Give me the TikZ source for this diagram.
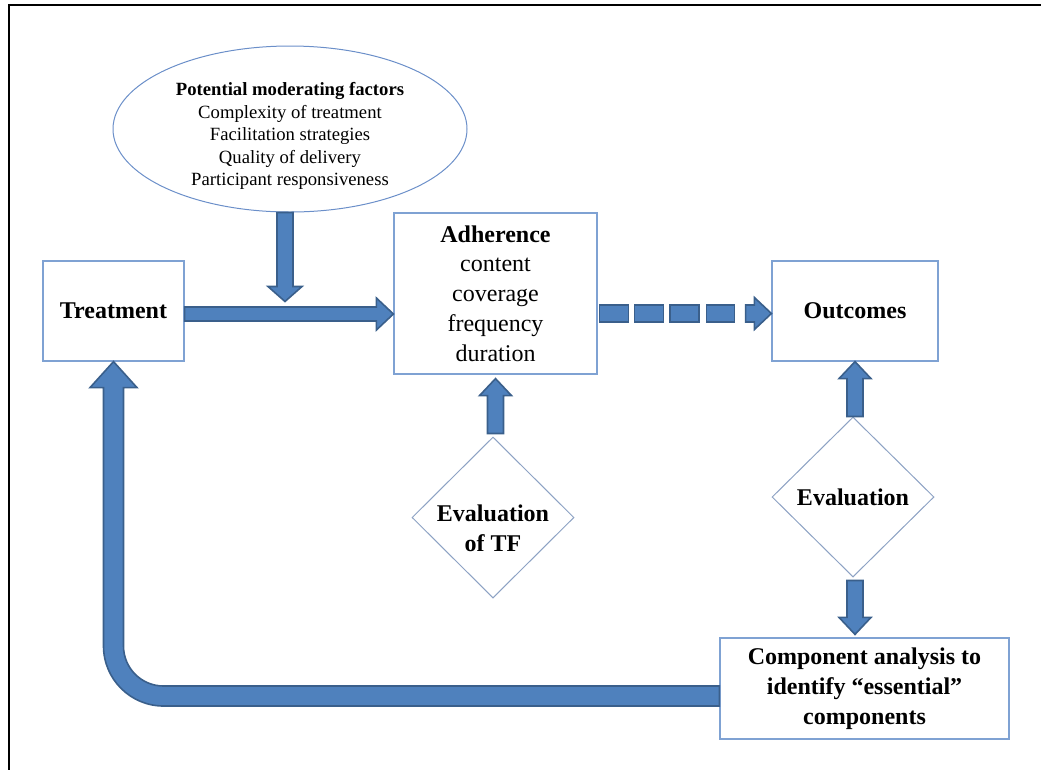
\documentclass[tikz,border=0pt]{standalone}
\usepackage{fontspec}
\setmainfont{Liberation Serif}
\usetikzlibrary{calc,shapes.geometric}
\definecolor{afill}{HTML}{4F81BD}
\definecolor{aline}{HTML}{3A5F8B}
\definecolor{bline}{HTML}{7FA2D3}
\definecolor{dline}{HTML}{8DA2C4}
\definecolor{eline}{HTML}{6B8FC9}
% #1 start coord, #2 end coord, #3/#4 unit direction, #5 half shaft, #6 half head, #7 head length
\newcommand\blockarrow[7]{%
 \draw[blk] ($(#1)+({-(#4)*(#5)},{(#3)*(#5)})$)
 -- ($(#2)+({-(#3)*(#7)-(#4)*(#5)},{-(#4)*(#7)+(#3)*(#5)})$)
 -- ($(#2)+({-(#3)*(#7)-(#4)*(#6)},{-(#4)*(#7)+(#3)*(#6)})$)
 -- (#2)
 -- ($(#2)+({-(#3)*(#7)+(#4)*(#6)},{-(#4)*(#7)-(#3)*(#6)})$)
 -- ($(#2)+({-(#3)*(#7)+(#4)*(#5)},{-(#4)*(#7)-(#3)*(#5)})$)
 -- ($(#1)+({(#4)*(#5)},{-(#3)*(#5)})$) -- cycle;}
\begin{document}
\begin{tikzpicture}[x=0.75pt,y=-0.75pt,
  box/.style={draw=bline, line width=0.9pt, rectangle, inner sep=0pt, fill=white},
  big/.style={font=\fontsize{18}{22.3}\selectfont, align=center},
  bigb/.style={font=\fontsize{18}{22.3}\selectfont\bfseries, align=center},
  small/.style={font=\fontsize{14}{16.9}\selectfont, align=center},
  blk/.style={fill=afill, draw=aline, line width=1.2pt, line join=miter},
  dia/.style={diamond, draw=dline, line width=0.75pt, inner sep=0pt, fill=white}]
\useasboundingbox (0,0) rectangle (1041,769);
\draw[line width=1.7pt] (9,775) -- (9,5) -- (1045,5);

\node[ellipse, draw=eline, line width=0.75pt, minimum width=265.5pt, minimum height=124.5pt, inner sep=0pt,
  label={[small, yshift=-5.25pt]center:{\textbf{Potential moderating factors}\\Complexity of treatment\\Facilitation strategies\\Quality of delivery\\Participant responsiveness}}] (ell) at (290,129) {};

\node[box, bigb, minimum width=105.75pt, minimum height=75pt] (treat) at (113.5,311) {Treatment};
\node[box, big, minimum width=152.25pt, minimum height=120.75pt] (adh) at (495.5,293.5) {\textbf{Adherence}\\content\\coverage\\frequency\\duration};
\node[box, bigb, minimum width=124.5pt, minimum height=75pt] (out) at (855,311) {Outcomes};
\node[box, bigb, minimum width=216.75pt, minimum height=75.75pt] (comp) at (864.5,688.5) {Component analysis to\\identify “essential”\\components};

\node[dia, minimum width=121.5pt, minimum height=120.75pt,
  label={[bigb, yshift=-8.25pt]center:{Evaluation\\of TF}}] (tf) at (493,517.5) {};
\node[dia, minimum width=121.5pt, minimum height=120pt,
  label={[bigb]center:{Evaluation}}] (ev) at (853,497) {};

% Treatment -> Adherence
\coordinate (a1s) at ($(treat.east)+(0,3)$);
\coordinate (a1e) at (a1s -| adh.west);
\blockarrow{a1s}{a1e}{1}{0}{7}{16}{17}

% moderating factors -> onto the treatment arrow
\coordinate (a2s) at ($(ell.south)+(-5,0)$);
\coordinate (a2e) at ($(a2s)+(0,89)$);
\blockarrow{a2s}{a2e}{0}{1}{8}{17}{15}

% Adherence -> Outcomes (dashed block arrow)
\coordinate (ds) at ($(out.west)+(0,2.5)$);
\coordinate (d0) at (adh.east |- ds);
\draw[blk] ($(d0)+(2,-8.5)$) rectangle +(29,17);
\draw[blk] ($(d0)+(37,-8.5)$) rectangle +(29,17);
\draw[blk] ($(d0)+(72.5,-8.5)$) rectangle +(29,17);
\draw[blk] ($(d0)+(109,-8.5)$) rectangle +(28,17);
\coordinate (d5) at ($(d0)+(148,0)$);
\blockarrow{d5}{ds}{1}{0}{8.5}{16}{17}

% Evaluation of TF -> Adherence
\coordinate (a4s) at ($(adh.south |- tf.north)+(0,-3)$);
\coordinate (a4e) at ($(adh.south)+(0,4)$);
\blockarrow{a4s}{a4e}{0}{-1}{8}{16}{17}

% Evaluation -> Outcomes
\coordinate (a5s) at (out.south |- ev.north);
\coordinate (a5e) at (out.south);
\blockarrow{a5s}{a5e}{0}{-1}{8}{16}{17}

% Evaluation -> Component analysis
\coordinate (a6s) at ($(out.south |- ev.south)+(0,3)$);
\coordinate (a6e) at ($(out.south |- comp.north)+(0,-3)$);
\blockarrow{a6s}{a6e}{0}{1}{8}{16}{17}

% Component analysis -> Treatment (curved)
\coordinate (cs) at ($(comp.west)+(0,7.5)$);
\coordinate (ce) at (treat.south);
\coordinate (cc) at (ce |- cs);
\draw[blk] ($(cs)+(0,-10)$) -- ($(cc)+(50,-10)$)
  .. controls ($(cc)+(27.9,-10)$) and ($(cc)+(10,-27.9)$) .. ($(cc)+(10,-50)$)
  -- ($(ce)+(10,26)$) -- ($(ce)+(23.5,26)$) -- (ce) -- ($(ce)+(-23.5,26)$) -- ($(ce)+(-10,26)$)
  -- ($(cc)+(-10,-50)$)
  .. controls ($(cc)+(-10,-16.9)$) and ($(cc)+(16.9,10)$) .. ($(cc)+(50,10)$)
  -- ($(cs)+(0,10)$) -- cycle;
\end{tikzpicture}
\end{document}
